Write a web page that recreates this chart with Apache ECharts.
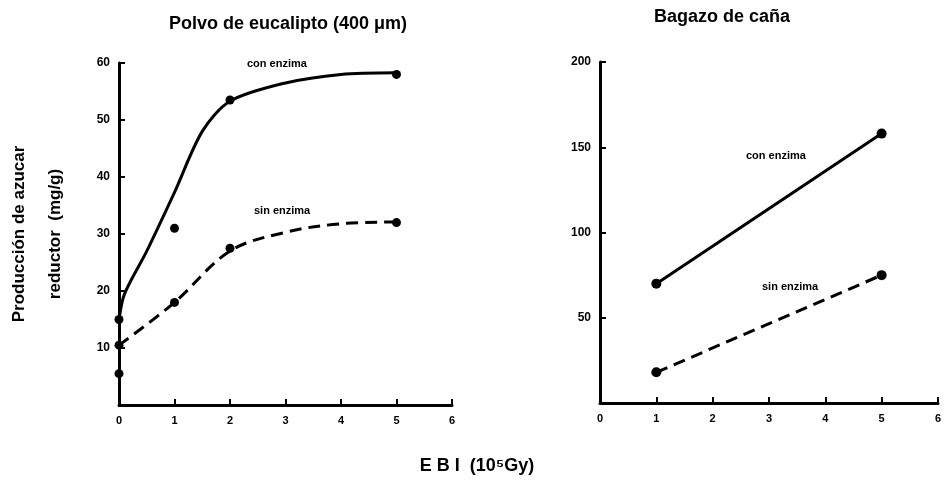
<!DOCTYPE html>
<html>
<head>
<meta charset="utf-8">
<script src="https://cdn.jsdelivr.net/npm/echarts@6/dist/echarts.min.js"></script>
<style>
html,body{margin:0;padding:0;background:#fff;}
#chart{width:944px;height:490px;}
</style>
</head>
<body>
<div id="chart"></div>
<script>
// eje x (EBI, 10^5 Gy)
var xTicks = [0, 1, 2, 3, 4, 5, 6];
// Polvo de eucalipto - con enzima: puntos medidos y curva trazada
var eucConPts = [[0, 15], [1, 31], [2, 53.5], [5, 58]];
var eucConCurve = [[0, 15], [0.1, 19.5], [0.5, 27], [1, 37.3], [1.5, 48], [2, 53.3], [3, 56.5], [4, 58], [5, 58.3]];
// Polvo de eucalipto - sin enzima
var eucSinPts = [[0, 10.5], [1, 18], [2, 27.5], [5, 32]];
var eucSinCurve = [[0, 10.5], [1, 18], [2, 27], [3, 30.3], [4, 31.8], [5, 32.1]];
var eucCtrl = [[0, 5.5]];
// Bagazo de caña
var bagCon = [[1, 70], [5, 158]];
var bagSin = [[1, 18], [5, 75]];

var myChart = echarts.init(document.getElementById('chart'));
var font = 'Liberation Sans';
var axisStyle = {color: '#000', width: 3};

function xAx(idx) {
    return {
        type: 'value', gridIndex: idx, min: 0, max: 6, interval: 1,
        axisLine: {show: true, onZero: false, lineStyle: axisStyle},
        axisTick: {show: true, inside: true, length: 6, lineStyle: {color: '#000', width: 2}},
        splitLine: {show: false},
        axisLabel: {color: '#000', fontFamily: font, fontWeight: 'bold', fontSize: 11, margin: 10,
            formatter: function (v) { return xTicks.indexOf(v) >= 0 ? String(v) : ''; }}
    };
}
function yAx(idx, max, interval, extra) {
    var a = {
        type: 'value', gridIndex: idx, min: 0, max: max, interval: interval,
        axisLine: {show: true, onZero: false, lineStyle: axisStyle},
        axisTick: {show: true, inside: true, length: 6, lineStyle: {color: '#000', width: 2}},
        splitLine: {show: false},
        axisLabel: {color: '#000', fontFamily: font, fontWeight: 'bold', fontSize: 12, margin: 9,
            formatter: function (v) { return v === 0 ? '' : String(v); }}
    };
    for (var k in extra) a[k] = extra[k];
    return a;
}

var solid = {color: '#000', width: 3, type: 'solid'};
var dashed = {color: '#000', width: 3, type: [12, 7]};
var dot = {color: '#000', opacity: 1};

var option = {
    backgroundColor: '#fff',
    animation: false,
    title: [
        {text: 'Polvo de eucalipto (400 μm)', left: 283, top: 10, textAlign: 'center',
            textStyle: {fontFamily: font, fontWeight: 'bold', fontSize: 18, color: '#000'}},
        {text: 'Bagazo de caña', left: 717, top: 3, textAlign: 'center',
            textStyle: {fontFamily: font, fontWeight: 'bold', fontSize: 18, color: '#000'}},
        {text: 'E B I  (10⁵Gy)', left: 472, top: 452, textAlign: 'center',
            textStyle: {fontFamily: font, fontWeight: 'bold', fontSize: 18, color: '#000'}}
    ],
    grid: [
        {left: 117, right: 492, top: 63, bottom: 85},
        {left: 600, right: 4, top: 62, bottom: 87}
    ],
    xAxis: [xAx(0), xAx(1)],
    yAxis: [
        yAx(0, 60, 10, {
            name: 'Producción de azucar\nreductor  (mg/g)',
            nameLocation: 'middle', nameRotate: 90, nameGap: 46,
            nameTextStyle: {fontFamily: font, fontWeight: 'bold', fontSize: 17, color: '#000', lineHeight: 36}
        }),
        yAx(1, 200, 50, {})
    ],
    graphic: [
        {type: 'text', left: 247, top: 58, style: {text: 'con enzima', font: 'bold 11px Liberation Sans', fill: '#000'}},
        {type: 'text', left: 254, top: 205, style: {text: 'sin enzima', font: 'bold 11px Liberation Sans', fill: '#000'}},
        {type: 'text', left: 746, top: 150, style: {text: 'con enzima', font: 'bold 11px Liberation Sans', fill: '#000'}},
        {type: 'text', left: 762, top: 281, style: {text: 'sin enzima', font: 'bold 11px Liberation Sans', fill: '#000'}}
    ],
    series: [
        {name: 'con enzima curva', type: 'line', xAxisIndex: 0, yAxisIndex: 0, data: eucConCurve,
            smooth: 0.3, symbol: 'none', lineStyle: solid},
        {name: 'sin enzima curva', type: 'line', xAxisIndex: 0, yAxisIndex: 0, data: eucSinCurve,
            smooth: 0.35, symbol: 'none', lineStyle: dashed},
        {name: 'con enzima', type: 'scatter', xAxisIndex: 0, yAxisIndex: 0, data: eucConPts,
            symbolSize: 9, itemStyle: dot},
        {name: 'sin enzima', type: 'scatter', xAxisIndex: 0, yAxisIndex: 0, data: eucSinPts,
            symbolSize: 9, itemStyle: dot},
        {name: 'control', type: 'scatter', xAxisIndex: 0, yAxisIndex: 0, data: eucCtrl,
            symbolSize: 9, itemStyle: dot},
        {name: 'bagazo con enzima', type: 'line', xAxisIndex: 1, yAxisIndex: 1, data: bagCon,
            symbol: 'circle', symbolSize: 10, itemStyle: dot, lineStyle: solid},
        {name: 'bagazo sin enzima', type: 'line', xAxisIndex: 1, yAxisIndex: 1, data: bagSin,
            symbol: 'circle', symbolSize: 10, itemStyle: dot, lineStyle: dashed}
    ]
};
myChart.setOption(option);
</script>
</body>
</html>
